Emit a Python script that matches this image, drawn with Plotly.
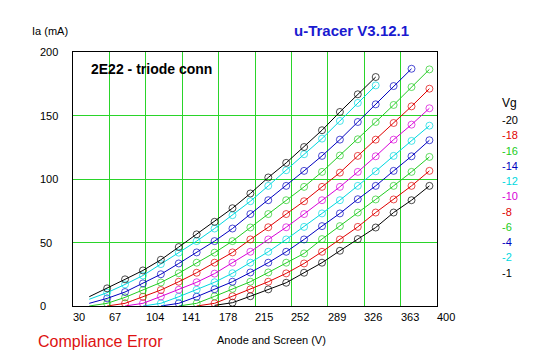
import plotly.graph_objects as go

# Anode voltage sweep points (V)
anode_v = [46.5, 64.7, 82.9, 101.1, 119.3, 137.5, 155.7, 173.9, 192.1, 210.3,
           228.5, 246.7, 264.9, 283.1, 301.3, 319.5, 337.7, 355.9, 374.1, 392.3]

# Anode current (mA) per grid voltage; None = not measured / not drawn
ia_m1 = [7.3, 13.9, 21.0, 28.0, 36.4, 46.4, 56.4, 66.3, 77.0, 88.6, 101.2, 112.7, 125.2, 138.4, 152.8, 166.7, 180.3, None, None, None]
ia_m2 = [5.3, 10.5, 17.0, 24.0, 33.0, 42.0, 51.1, 61.0, 71.5, 82.5, 94.6, 106.9, 119.5, 131.8, 145.7, 159.9, 173.7, None, None, None]
ia_m4 = [2.1, 6.0, 11.0, 17.8, 25.0, 33.5, 42.2, 51.1, 61.0, 72.4, 83.3, 94.6, 106.4, 118.2, 131.0, 144.9, 158.8, 173.2, 186.8, None]
ia_m6 = [0.0, 2.1, 6.8, 12.4, 18.5, 25.8, 34.1, 42.0, 51.1, 61.8, 72.4, 83.3, 93.8, 105.6, 118.5, 131.3, 144.9, 158.3, 172.4, 186.3]
ia_m8 = [None, 0.0, 2.1, 7.3, 12.6, 19.1, 26.2, 34.1, 42.2, 52.4, 62.0, 72.4, 82.5, 93.8, 105.0, 118.2, 131.0, 144.1, 157.2, 171.1]
ia_m10 = [None, None, 0.0, 2.1, 7.5, 12.8, 18.7, 25.5, 34.1, 42.7, 52.4, 62.0, 72.4, 83.3, 93.8, 105.6, 117.9, 131.0, 142.8, 155.7]
ia_m12 = [None, None, None, 0.0, 2.1, 7.3, 12.8, 18.7, 25.8, 34.1, 42.7, 52.4, 62.3, 72.9, 83.3, 94.6, 106.1, 118.2, 130.0, 142.0]
ia_m14 = [None, None, None, None, 0.0, 2.1, 7.3, 13.2, 19.1, 26.4, 34.1, 42.7, 52.4, 62.9, 72.9, 84.1, 94.6, 106.4, 117.9, 130.5]
ia_m16 = [None, None, None, None, None, 0.0, 2.1, 7.6, 13.5, 19.1, 26.4, 34.1, 41.4, 52.7, 62.9, 73.6, 83.9, 94.6, 105.6, 117.4]
ia_m18 = [None, None, None, None, None, None, 0.0, 2.1, 7.7, 13.1, 19.1, 25.7, 33.5, 42.7, 52.4, 62.3, 73.6, 83.9, 94.6, 106.4]
ia_m20 = [None, None, None, None, None, None, None, 0.5, 2.6, 7.7, 13.1, 18.3, 26.2, 34.1, 43.5, 52.7, 61.8, 73.6, 83.3, 94.6]

vg_labels = ["-20", "-18", "-16", "-14", "-12", "-10", "-8", "-6", "-4", "-2", "-1"]
series = [ia_m20, ia_m18, ia_m16, ia_m14, ia_m12, ia_m10, ia_m8, ia_m6, ia_m4, ia_m2, ia_m1]
colors = ["#000000", "#e00000", "#22cc22", "#0000c0", "#00d8e0", "#d800d8",
          "#e00000", "#22cc22", "#0000c0", "#00d8e0", "#000000"]

x_ticks = [30, 67, 104, 141, 178, 215, 252, 289, 326, 363, 400]
y_ticks = [0, 50, 100, 150, 200]

FONT = "Liberation Sans, Arial, sans-serif"
fig = go.Figure()

for lab, ys, col in zip(vg_labels, series, colors):
    xs = [v for v, y in zip(anode_v, ys) if y is not None]
    yy = [y for y in ys if y is not None]
    sizes = [0] + [7] * (len(yy) - 1)
    fig.add_trace(go.Scatter(
        x=xs, y=yy, mode="lines+markers", name=lab,
        line=dict(color=col, width=1),
        marker=dict(symbol="circle-open", size=sizes, color=col, line=dict(width=1, color=col)),
        showlegend=False, cliponaxis=True, hoverinfo="skip",
    ))

grid_col = "#2ad42a"
fig.update_xaxes(range=[30, 400], tickvals=x_ticks, showticklabels=False,
                 showgrid=True, gridcolor=grid_col, gridwidth=1,
                 showline=True, linecolor="black", linewidth=1, mirror=True,
                 zeroline=False, ticks="")
fig.update_yaxes(range=[0, 200], tickvals=y_ticks, showticklabels=False,
                 showgrid=True, gridcolor=grid_col, gridwidth=1,
                 showline=True, linecolor="black", linewidth=1, mirror=True,
                 zeroline=False, ticks="")

ann = []
for t in x_ticks:
    ann.append(dict(x=t, xref="x", y=0, yref="paper", yanchor="top", xanchor="left",
                    xshift=-2, yshift=-3, text=str(t), showarrow=False,
                    font=dict(family=FONT, size=11, color="black")))
for t in y_ticks:
    ann.append(dict(x=0, xref="paper", y=t, yref="y", xanchor="left", yanchor="middle",
                    xshift=-35, text=str(t), showarrow=False,
                    font=dict(family=FONT, size=11, color="black")))

ann.append(dict(x=-0.118, xref="paper", y=1.083, yref="paper", xanchor="left", yanchor="middle",
                text="Ia (mA)", showarrow=False, font=dict(family=FONT, size=11, color="black")))
ann.append(dict(x=0.602, xref="paper", y=1.083, yref="paper", xanchor="left", yanchor="middle",
                text="<b>u-Tracer V3.12.1</b>", showarrow=False,
                font=dict(family=FONT, size=15, color="#1a1ad0")))
ann.append(dict(x=0.044, xref="paper", y=0.933, yref="paper", xanchor="left", yanchor="middle",
                text="<b>2E22 - triode conn</b>", showarrow=False,
                font=dict(family=FONT, size=14, color="black")))
ann.append(dict(x=-0.102, xref="paper", y=-0.138, yref="paper", xanchor="left", yanchor="middle",
                text="Compliance Error", showarrow=False,
                font=dict(family=FONT, size=16, color="#dd1111")))
ann.append(dict(x=0.544, xref="paper", y=-0.134, yref="paper", xanchor="center", yanchor="middle",
                text="Anode and Screen (V)", showarrow=False,
                font=dict(family=FONT, size=11, color="black")))

# Vg legend text column
ann.append(dict(x=1.172, xref="paper", y=0.798, yref="paper", xanchor="left", yanchor="middle",
                text="Vg", showarrow=False, font=dict(family=FONT, size=12, color="black")))
for i, (lab, col) in enumerate(zip(vg_labels, colors)):
    ypx = 120 + 15.25 * i
    ann.append(dict(x=1.172, xref="paper", y=(306 - ypx) / 254, yref="paper",
                    xanchor="left", yanchor="middle", text=lab, showarrow=False,
                    font=dict(family=FONT, size=11, color=col)))

fig.update_layout(
    width=547, height=357,
    margin=dict(l=73, r=110, t=52, b=51),
    paper_bgcolor="white", plot_bgcolor="white",
    annotations=ann, hovermode=False,
)

fig.write_html("out.html", config={"displayModeBar": False, "staticPlot": True},
               post_script="document.body.style.margin='0';document.body.style.padding='0';")
